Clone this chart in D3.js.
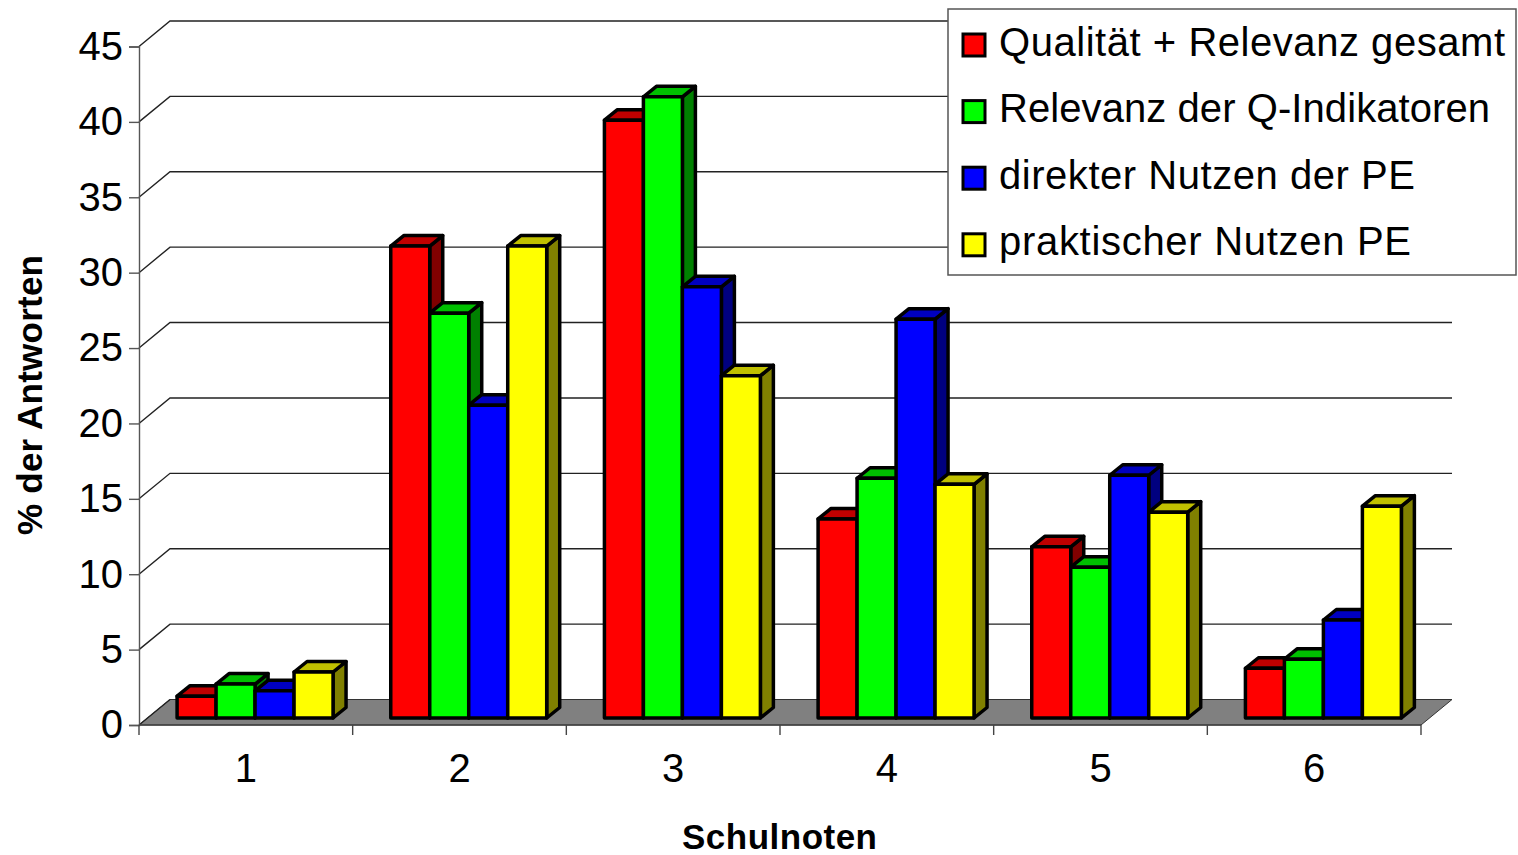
<!DOCTYPE html>
<html><head><meta charset="utf-8">
<script src="https://cdn.jsdelivr.net/npm/d3@7"></script>
<style>html,body{margin:0;padding:0;background:#fff}svg{display:block}text{font-family:"Liberation Sans",Arial,sans-serif;fill:#000}</style>
</head><body><svg id="c" width="1518" height="855"></svg>
<script>
const categories=["1","2","3","4","5","6"];
const seriesNames=["Qualität + Relevanz gesamt","Relevanz der Q-Indikatoren","direkter Nutzen der PE","praktischer Nutzen PE"];
const s1=[1.45,31.3,39.65,13.2,11.35,3.3];
const s2=[2.25,26.85,41.2,15.9,10.0,3.9];
const s3=[1.8,20.75,28.6,26.45,16.1,6.5];
const s4=[3.05,31.3,22.7,15.5,13.65,14.05];
const allSeries=[s1,s2,s3,s4];
const front=["#ff0000","#00ff00","#0000ff","#ffff00"];
const topC=["#c00000","#00c000","#0000c0","#c0c000"];
const sideC=["#800000","#008000","#000080","#808000"];
const yTicks=d3.range(0,46,5);
const legendTextWidths=[506,491,416,412];

const svg=d3.select("#c");
const X0=139,X1=1421,Y0=725,Y45=46.5,DX=31,DY=25.5,barLift=7,bdx=13,bdy=10.5;
const x=d3.scaleBand().domain(categories).range([X0,X1]);
const xi=d3.scaleBand().domain(d3.range(4)).range([0,x.bandwidth()]).paddingOuter(0.74).paddingInner(0).align(0.66);
const y=d3.scaleLinear().domain([0,45]).range([Y0,Y45]);

// floor
svg.append("path").attr("d",d3.line()([[X0,Y0],[X0+DX,Y0-DY],[X1+DX,Y0-DY],[X1,Y0]])+"Z")
  .attr("fill","#808080").attr("stroke","#333").attr("stroke-width",1);
// gridlines
const g=svg.append("g").attr("fill","none").attr("stroke","#222").attr("stroke-width",1.4);
yTicks.forEach(t=>{
  const yy=y(t);
  g.append("path").attr("d",d3.line()(t===0?[[X0,yy],[X0+DX,yy-DY]]:[[X0,yy],[X0+DX,yy-DY],[X1+DX,yy-DY]]));
});
// axes
const ya=svg.append("g").attr("transform",`translate(${X0},0)`).call(d3.axisLeft(y).tickValues(yTicks).tickSize(10).tickPadding(6));
ya.selectAll("text").attr("font-size",40).style("font-family",'"Liberation Sans",Arial,sans-serif').attr("dy","0.32em");
ya.selectAll("line,path").attr("stroke","#555").attr("stroke-width",1.4);
const xa=svg.append("g").attr("transform",`translate(0,${Y0})`).call(d3.axisBottom(x).tickValues([]).tickSize(0));
xa.select("path").attr("stroke","#444").attr("stroke-width",1.4).attr("d",`M${X0},0H${X1}`);
[...categories.map(c=>x(c)),X1].forEach(px=>{
  svg.append("line").attr("x1",px).attr("x2",px).attr("y1",Y0).attr("y2",Y0+10).attr("stroke","#444").attr("stroke-width",1.4);
});
categories.forEach(c=>{
  svg.append("text").attr("x",x(c)+x.bandwidth()/2).attr("y",782).attr("text-anchor","middle").attr("font-size",40).text(c);
});
// bars
const base=y(0)-barLift;
const bars=svg.append("g").attr("stroke","#000").attr("stroke-width",3.5).attr("stroke-linejoin","round");
categories.forEach((c,ci)=>{
  allSeries.forEach((vals,si)=>{
    const l=x(c)+xi(si),r=l+xi.bandwidth(),t=y(vals[ci])-barLift;
    bars.append("path").attr("fill",sideC[si]).attr("d",d3.line()([[r,t],[r+bdx,t-bdy],[r+bdx,base-bdy],[r,base]])+"Z");
    bars.append("path").attr("fill",topC[si]).attr("d",d3.line()([[l,t],[l+bdx,t-bdy],[r+bdx,t-bdy],[r,t]])+"Z");
    bars.append("path").attr("fill",front[si]).attr("d",d3.line()([[l,t],[r,t],[r,base],[l,base]])+"Z");
  });
});
// titles
svg.append("text").attr("x",779.5).attr("y",849).attr("text-anchor","middle").attr("font-size",35).attr("font-weight","bold").attr("textLength",195).text("Schulnoten");
svg.append("text").attr("transform","translate(42,395) rotate(-90)").attr("text-anchor","middle").attr("font-size",35).attr("font-weight","bold").attr("textLength",280).text("% der Antworten");
// legend
svg.append("rect").attr("x",948).attr("y",9).attr("width",568).attr("height",266).attr("fill","#fff").attr("stroke","#555").attr("stroke-width",1.5);
seriesNames.forEach((n,i)=>{
  const cy=45+i*66.6;
  svg.append("rect").attr("x",963).attr("y",cy-11).attr("width",22).attr("height",22).attr("fill",front[i]).attr("stroke","#000").attr("stroke-width",3);
  svg.append("text").attr("x",999).attr("y",cy+10.5).attr("font-size",40).attr("textLength",legendTextWidths[i]).text(n);
});
</script></body></html>
